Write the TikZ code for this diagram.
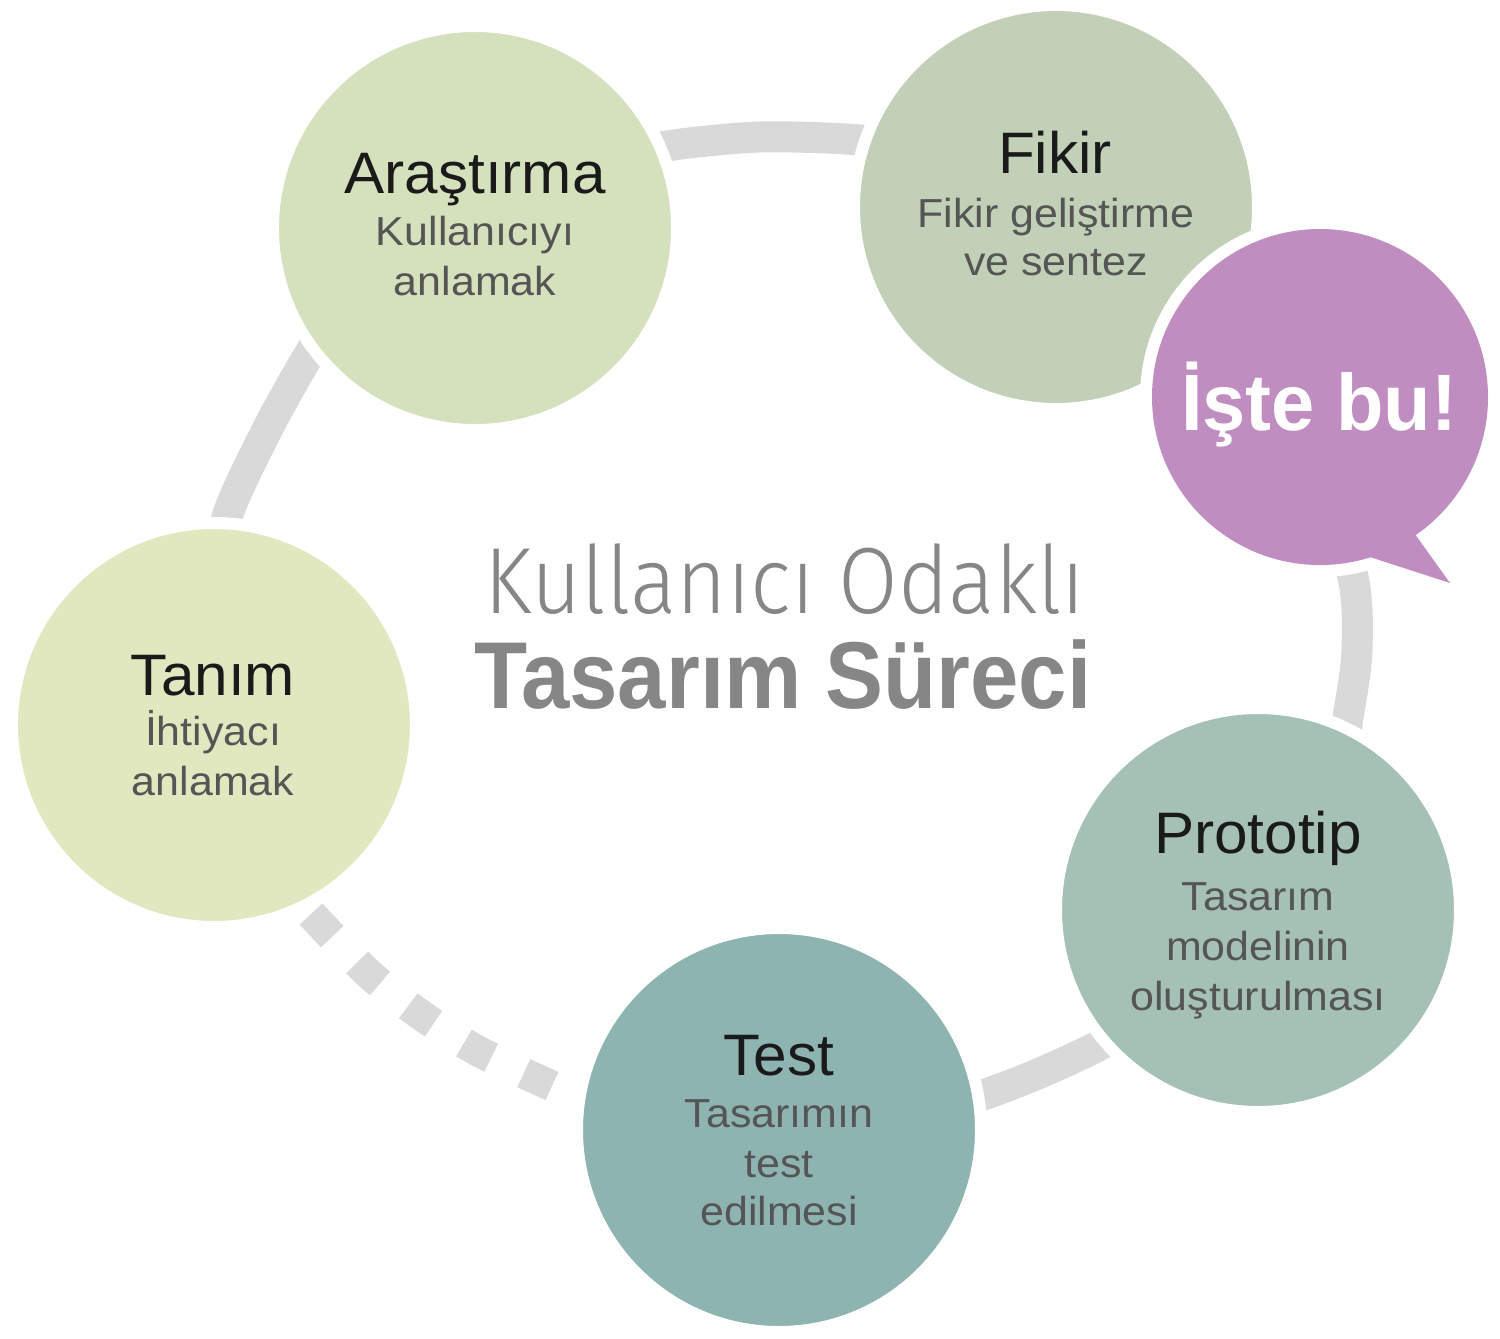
\documentclass[tikz,border=0pt]{standalone}
\usepackage{fontspec}
\setmainfont{Liberation Sans}
\newfontfamily\lightfont{Fira Sans Light}[FakeStretch=0.92]
\newfontfamily\centfont{Liberation Sans}[FakeStretch=0.915]
\newfontfamily\ttlfont{Liberation Sans}[FakeStretch=1.03]
\newfontfamily\subfont{Liberation Sans}[FakeStretch=1.06]
\newfontfamily\bubfont{Liberation Sans}[FakeStretch=0.97]
\usetikzlibrary{backgrounds}
\definecolor{ringgray}{HTML}{D9D9D9}
\definecolor{arcol}{HTML}{D5E1BC}
\definecolor{ficol}{HTML}{C1D0B6}
\definecolor{bucol}{HTML}{BF8DC0}
\definecolor{prcol}{HTML}{A5C0B5}
\definecolor{tecol}{HTML}{8EB4B2}
\definecolor{tacol}{HTML}{E1E8C0}
\definecolor{titlecol}{HTML}{1A1A1A}
\definecolor{subcol}{HTML}{555555}
\definecolor{centcol}{HTML}{868686}
\tikzset{
  stage/.style={circle, minimum size=404pt, inner sep=0pt, draw=white, line width=12pt},
  ring/.style={line width=31pt, draw=ringgray},
  ttl/.style={anchor=base, inner sep=0pt, text=titlecol, font=\ttlfont\fontsize{58.5}{60}\selectfont},
  sub/.style={anchor=base, inner sep=0pt, text=subcol, font=\subfont\fontsize{40.5}{42}\selectfont},
}
\begin{document}
\begin{tikzpicture}[x=1pt,y=-1pt]
\useasboundingbox (0,0) rectangle (1500,1339);
% stage circles
\node[stage, fill=arcol] (ar) at (475,228) {};
\node[stage, fill=ficol] (fi) at (1056,207) {};
\node[stage, fill=prcol] (pr) at (1258,910) {};
\node[stage, fill=tecol] (te) at (779,1130) {};
\node[stage, fill=tacol] (ta) at (214,725) {};
% speech bubble
\coordinate (bc) at (1320,397);
\draw[white, line width=24pt] (bc) circle[radius=168pt];
\draw[white, line width=24pt, line join=round] (1410.4,527.8) -- (1450,583) -- (1365.3,555.5) -- cycle;
\fill[bucol] (bc) circle[radius=168pt];
\fill[bucol] (1410.4,527.8) -- (1450,583) -- (1365.3,555.5) -- cycle;
% ring connectors
\coordinate (d1) at (311,914);
\coordinate (d5) at (552,1086);
\begin{pgfonlayer}{background}
\draw[ring] plot[smooth] coordinates {(ar.center) (620,160) (667,146) (760,137) (860,140) (905,150) (fi.center)};
\draw[ring] plot[smooth] coordinates {(fi.center) (1250,300) (1311,480) (1352,573) (1357,650) (1348,717) (1334,790) (pr.center)};
\draw[ring] plot[smooth] coordinates {(pr.center) (1160,1010) (1100,1045) (1040,1073) (983,1095) (930,1110) (te.center)};
\draw[ring] plot[smooth] coordinates {(ta.center) (222,580) (227,517) (267,430) (310,353) (340,310) (ar.center)};
\draw[ring, dash pattern=on 31pt off 36pt] plot[smooth] coordinates {(d1) (368,973) (421,1015) (478,1051) (d5)};
\end{pgfonlayer}
% texts
\node[ttl] (arT) at (475,193) {Araştırma};
\node[sub] (arS1) at (475,245) {Kullanıcıyı};
\node[sub] (arS2) at (475,295) {anlamak};
\node[ttl] (fiT) at (1055,173) {Fikir};
\node[sub] (fiS1) at (1056,227) {Fikir geliştirme};
\node[sub] (fiS2) at (1056,275) {ve sentez};
\node[anchor=base, inner sep=0pt, text=white, font=\bubfont\bfseries\fontsize{80}{82}\selectfont] (bu) at (1319,430) {İşte bu!};
\node[ttl] (taT) at (213,695) {Tanım};
\node[sub] (taS1) at (213,745) {İhtiyacı};
\node[sub] (taS2) at (213,795) {anlamak};
\node[ttl] (prT) at (1258,853) {Prototip};
\node[sub] (prS1) at (1258,910) {Tasarım};
\node[sub] (prS2) at (1258,960) {modelinin};
\node[sub] (prS3) at (1258,1010) {oluşturulması};
\node[ttl] (teT) at (779,1075) {Test};
\node[sub] (teS1) at (779,1127) {Tasarımın};
\node[sub] (teS2) at (779,1177) {test};
\node[sub] (teS3) at (779,1225) {edilmesi};
\node[anchor=base, inner sep=0pt, text=centcol, font=\lightfont\fontsize{94}{96}\selectfont] (c1) at (785,613) {Kullanıcı Odaklı};
\node[anchor=base, inner sep=0pt, text=centcol, font=\centfont\bfseries\fontsize{95}{97}\selectfont] (c2) at (783,708) {Tasarım Süreci};
\end{tikzpicture}
\end{document}
